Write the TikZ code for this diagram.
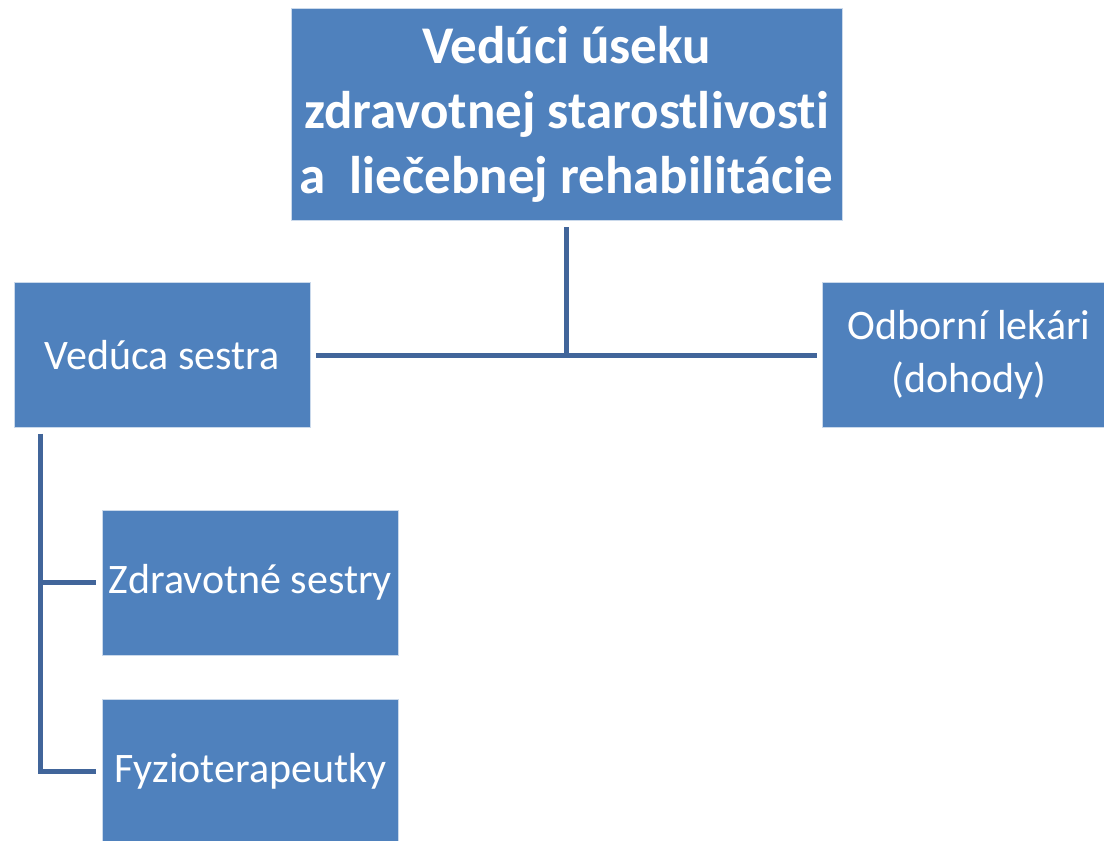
\documentclass[tikz,border=0pt]{standalone}
\usepackage{fontspec}
\setmainfont{Carlito}[Ligatures=CommonOff]
\usepackage{xcolor}
\definecolor{boxblue}{HTML}{4F81BD}
\definecolor{linkblue}{HTML}{41659A}

\begin{document}
\begin{tikzpicture}[x=1pt, y=-1pt]
    % Define styles
    \tikzstyle{unit} = [rectangle, fill=boxblue, draw=white!70!boxblue, line width=0.8pt, text=white, align=center, inner sep=0pt, minimum width=296pt, minimum height=145pt, font=\fontsize{42}{53}\selectfont]
    \tikzstyle{head} = [unit, minimum width=551pt, minimum height=212pt, font=\bfseries\fontsize{53}{65}\selectfont]
    \tikzstyle{link} = [draw=linkblue, line width=5pt]

    \useasboundingbox (0,0) rectangle (1104,841);
    \clip (0,0) rectangle (1104,841);

    % Boxes
    \node [head] (lead) at (566.5,114) {Vedúci úseku\\zdravotnej starostlivosti\\a~~liečebnej rehabilitácie};
    \node [unit] (nurse) at (162,355) {Vedúca sestra};
    \node [unit, minimum width=282pt] (doctors) at (963,355) {\hspace*{12pt}Odborní lekári\\\hspace*{12pt}(dohody)};
    \node [unit] (nurses) at (250.5,582.5) {Zdravotné sestry};
    \node [unit] (therapists) at (250.5,771.5) {Fyzioterapeutky};

    % Connectors
    \coordinate (hub) at (lead.south |- nurse.east);
    \coordinate (trunk) at ([xshift=27pt]nurse.south west);
    \draw [link, shorten <=7pt] (lead.south) -- (hub);
    \draw [link, shorten <=6pt, shorten >=5pt] (nurse.east) -- (doctors.west);
    \draw [link, shorten <=6pt, shorten >=6pt] (trunk) |- (nurses.west);
    \draw [link, shorten <=6pt, shorten >=6pt] (trunk) |- (therapists.west);
\end{tikzpicture}
\end{document}
